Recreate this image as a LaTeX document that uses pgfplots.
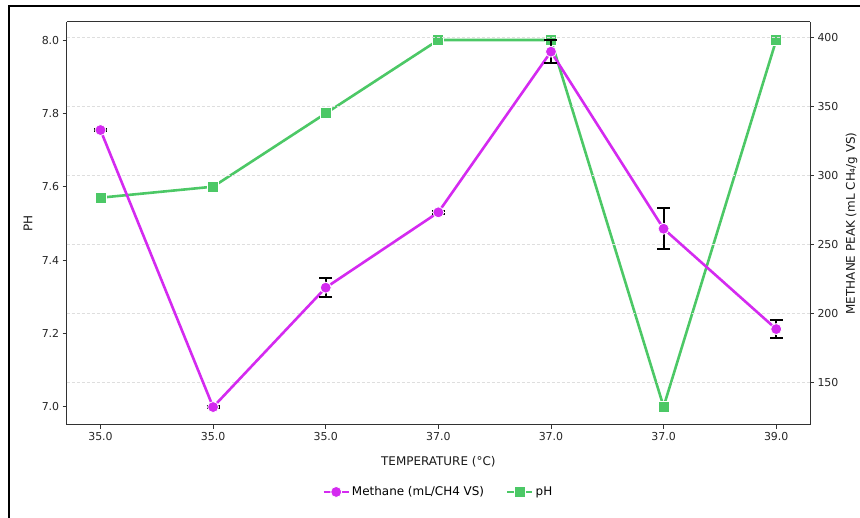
\documentclass[border=0pt]{standalone}
\usepackage{pgfplots}
\pgfplotsset{compat=1.18}
\usepackage{fontspec}
\setmainfont{DejaVu Sans}
\definecolor{mpurple}{RGB}{212,42,240}
\definecolor{mgreen}{RGB}{76,200,102}
\definecolor{spine}{RGB}{50,50,50}
\definecolor{gridc}{RGB}{222,222,222}

\pgfplotstableread{
x y e
0 332.8 1.0
1 132.1 0.8
2 218.6 7.0
3 273.2 1.0
4 389.6 8.5
5 261.3 15.0
6 188.6 6.3
}\methane

\pgfplotstableread{
x y
0 7.57
1 7.60
2 7.80
3 8.00
4 8.00
5 7.00
6 8.00
}\phdata

\pgfplotsset{
  common/.style={
    at={(66.7bp,93bp)}, anchor=south west,
    scale only axis, width=743.3bp, height=403.3bp,
    xmin=-0.3, xmax=6.3,
    /pgf/number format/assume math mode=true,
    tick label style={font=\fontsize{11}{13}\selectfont, color=black!85},
    label style={font=\fontsize{12}{14}\selectfont, color=black!90},
    axis line style={spine, line width=1bp},
    tick style={spine, line width=0.9bp},
    major tick length=4bp,
    tick align=outside,
  },
}

\begin{document}
\begin{tikzpicture}
\useasboundingbox (0,0) rectangle (860bp,518bp);
\draw[line width=1.3bp] (9bp,0) -- (9bp,512bp) -- (860bp,512bp);

\begin{axis}[common,
  ymin=6.95, ymax=8.05,
  ytick={7.0,7.2,7.4,7.6,7.8,8.0},
  yticklabel style={/pgf/number format/.cd, fixed, fixed zerofill, precision=1},
  xtick={0,...,6},
  xticklabels={35.0,35.0,35.0,37.0,37.0,37.0,39.0},
  axis y line*=left, axis x line*=bottom,
  xlabel={TEMPERATURE (°C)},
  ylabel={PH},
  xlabel style={at={(axis description cs:0.5,-0.0917)}, anchor=center},
  ylabel style={at={(axis description cs:-0.052,0.5)}, anchor=center},
]
\addplot[mgreen, line width=2.6bp, mark=square*, mark size=5.5bp,
  mark options={draw=white, fill=mgreen, line width=0.8bp}] table[x=x,y=y] {\phdata};
\end{axis}

\begin{axis}[common,
  ymin=119.1, ymax=411.3,
  ytick={150,200,250,300,350,400},
  axis y line*=right, axis x line=none,
  ymajorgrids,
  grid style={gridc, dashed, dash pattern=on 3bp off 2bp, line width=0.8bp},
  ylabel={METHANE PEAK (mL CH₄/g VS)},
  ylabel style={at={(axis description cs:1.056,0.5)}, anchor=center, rotate=0},
  legend columns=2,
  legend style={at={(axis description cs:0.5,-0.166)}, anchor=center, draw=none, fill=none,
    font=\fontsize{12}{14}\selectfont,
    /tikz/every even column/.append style={column sep=20bp}},
  legend image code/.code={\draw[mark repeat=2,mark phase=2,#1] plot coordinates {(0bp,0bp) (12.5bp,0bp) (25bp,0bp)};},
]
\draw[spine, line width=1.3bp] (rel axis cs:0,1) -- (rel axis cs:1,1);
\addplot[mpurple, line width=2.6bp, mark=*, mark size=5.5bp,
  mark options={draw=white, fill=mpurple, line width=0.8bp},
  error bars/.cd, y dir=both, y explicit,
  error bar style={black, line width=2bp},
  error mark options={black, rotate=90, mark size=6.5bp, line width=2bp}]
  table[x=x,y=y,y error=e] {\methane};
\addlegendentry{Methane (mL/CH4 VS)}
\addlegendimage{mgreen, line width=2.6bp, mark=square*, mark size=5.5bp,
  mark options={draw=white, fill=mgreen, line width=0.8bp}}
\addlegendentry{pH}
\end{axis}
\end{tikzpicture}
\end{document}
